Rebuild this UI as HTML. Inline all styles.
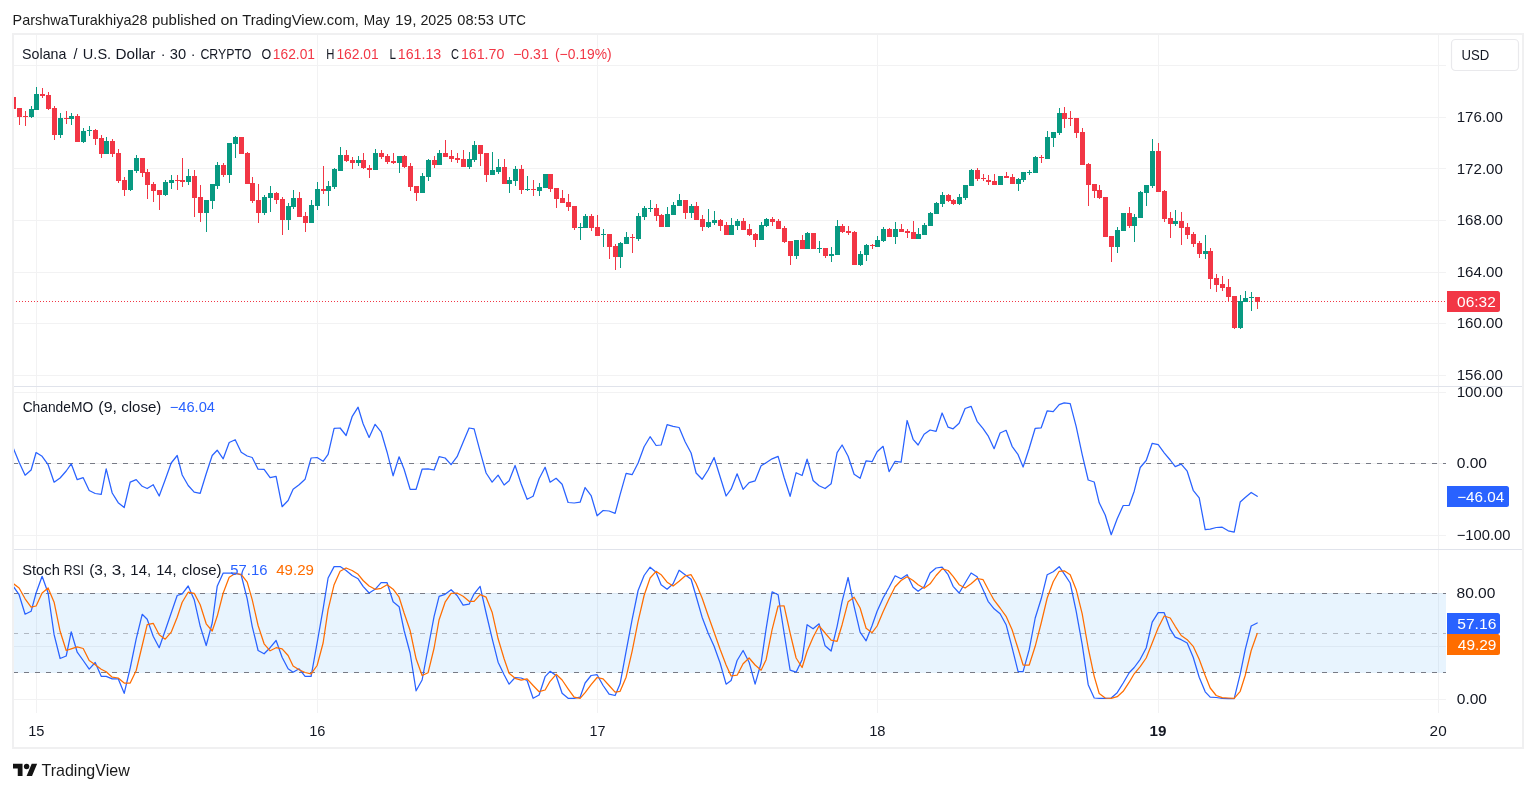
<!DOCTYPE html>
<html lang="en"><head><meta charset="utf-8"><title>SOLUSD chart</title>
<style>html,body{margin:0;padding:0;background:#fff;}body{width:1536px;height:792px;overflow:hidden;}svg{display:block;position:absolute;left:0;top:0;will-change:transform;}text{font-family:"Liberation Sans", Arial, sans-serif;font-size:14.3px;fill:#131722;white-space:pre;}.ax{font-size:14.5px;}.w{fill:#fff;}.r{fill:#f23645;}.b{fill:#2962ff;}.o{fill:#ff6d00;}</style></head><body>
<svg width="1536" height="792" viewBox="0 0 1536 792">
<rect width="1536" height="792" fill="#fff"/>
<defs><clipPath id="p1"><rect x="14" y="35" width="1508" height="351"/></clipPath><clipPath id="p2"><rect x="14" y="387" width="1508" height="162"/></clipPath><clipPath id="p3"><rect x="14" y="550" width="1508" height="162"/></clipPath><clipPath id="c1"><rect x="14" y="35" width="1432" height="351"/></clipPath><clipPath id="c2"><rect x="14" y="387" width="1432" height="162"/></clipPath><clipPath id="c3"><rect x="14" y="550" width="1432" height="150"/></clipPath></defs>
<g shape-rendering="crispEdges">
<g fill="#f2f2f3">
<rect x="36" y="35" width="1" height="678"/>
<rect x="317" y="35" width="1" height="678"/>
<rect x="597" y="35" width="1" height="678"/>
<rect x="877" y="35" width="1" height="678"/>
<rect x="1158" y="35" width="1" height="678"/>
<rect x="1438" y="35" width="1" height="678"/>
<rect x="14" y="65" width="1432" height="1"/>
<rect x="14" y="117" width="1432" height="1"/>
<rect x="14" y="168" width="1432" height="1"/>
<rect x="14" y="220" width="1432" height="1"/>
<rect x="14" y="272" width="1432" height="1"/>
<rect x="14" y="323" width="1432" height="1"/>
<rect x="14" y="375" width="1432" height="1"/>
<rect x="14" y="392" width="1432" height="1"/>
<rect x="14" y="463" width="1432" height="1"/>
<rect x="14" y="535" width="1432" height="1"/>
<rect x="14" y="593" width="1432" height="1"/>
<rect x="14" y="646" width="1432" height="1"/>
<rect x="14" y="699" width="1432" height="1"/>
</g>
<rect x="14" y="593" width="1432" height="80" fill="#2196f3" fill-opacity="0.1"/>
<rect x="14" y="386" width="1508" height="1" fill="#e0e3eb"/>
<rect x="14" y="549" width="1508" height="1" fill="#e0e3eb"/>
<path d="M13 463.5H1446" stroke="#787b86" stroke-width="1" stroke-dasharray="5 6" fill="none" stroke-opacity="1.0" clip-path="url(#p1)" style="clip-path:none"/>
<path d="M13 593.5H1446" stroke="#787b86" stroke-width="1" stroke-dasharray="5 6" fill="none" stroke-opacity="1.0" clip-path="url(#p1)" style="clip-path:none"/>
<path d="M13 672.5H1446" stroke="#787b86" stroke-width="1" stroke-dasharray="5 6" fill="none" stroke-opacity="1.0" clip-path="url(#p1)" style="clip-path:none"/>
<path d="M13 633.5H1446" stroke="#787b86" stroke-width="1" stroke-dasharray="5 6" fill="none" stroke-opacity="0.5" clip-path="url(#p1)" style="clip-path:none"/>
<path d="M13 301.5H1446" stroke="#f23645" stroke-width="1" stroke-dasharray="1 2" fill="none"/>
</g>
<g shape-rendering="crispEdges" clip-path="url(#c1)">
<path fill="#089981" d="M31 106h1v12h-1zM29 109h5v8h-5zM36 87h1v23h-1zM34 94h5v16h-5zM60 113h1v25h-1zM58 118h5v17h-5zM71 113h1v12h-1zM69 116h5v3h-5zM83 128h1v15h-1zM81 131h5v11h-5zM89 126h1v10h-1zM87 130h5v1h-5zM106 137h1v17h-1zM104 141h5v13h-5zM130 170h1v21h-1zM128 170h5v20h-5zM136 155h1v18h-1zM134 158h5v13h-5zM165 180h1v16h-1zM163 182h5v13h-5zM171 175h1v14h-1zM169 180h5v3h-5zM188 169h1v16h-1zM186 176h5v6h-5zM206 200h1v32h-1zM204 200h5v13h-5zM212 184h1v25h-1zM210 184h5v17h-5zM217 162h1v27h-1zM215 165h5v21h-5zM229 143h1v40h-1zM227 143h5v32h-5zM235 136h1v22h-1zM233 137h5v7h-5zM264 195h1v20h-1zM262 197h5v16h-5zM270 186h1v26h-1zM268 193h5v5h-5zM288 203h1v27h-1zM286 206h5v14h-5zM293 190h1v19h-1zM291 198h5v9h-5zM311 200h1v23h-1zM309 205h5v18h-5zM317 182h1v28h-1zM315 189h5v17h-5zM328 181h1v25h-1zM326 186h5v5h-5zM334 168h1v21h-1zM332 169h5v18h-5zM340 147h1v24h-1zM338 155h5v16h-5zM358 156h1v10h-1zM356 160h5v3h-5zM375 149h1v21h-1zM373 153h5v17h-5zM399 156h1v17h-1zM397 156h5v7h-5zM422 173h1v20h-1zM420 176h5v17h-5zM428 159h1v22h-1zM426 160h5v17h-5zM439 150h1v15h-1zM437 153h5v12h-5zM469 152h1v17h-1zM467 159h5v8h-5zM474 141h1v21h-1zM472 145h5v15h-5zM492 152h1v23h-1zM490 170h5v5h-5zM498 159h1v15h-1zM496 167h5v5h-5zM509 177h1v16h-1zM507 180h5v4h-5zM515 166h1v20h-1zM513 169h5v12h-5zM527 176h1v15h-1zM525 189h5v1h-5zM539 183h1v13h-1zM537 187h5v4h-5zM545 174h1v14h-1zM543 174h5v14h-5zM580 223h1v17h-1zM578 227h5v1h-5zM585 214h1v14h-1zM583 216h5v12h-5zM603 229h1v18h-1zM601 234h5v1h-5zM620 242h1v26h-1zM618 243h5v14h-5zM626 232h1v12h-1zM624 237h5v7h-5zM638 213h1v28h-1zM636 216h5v23h-5zM644 206h1v14h-1zM642 208h5v9h-5zM650 200h1v12h-1zM648 208h5v1h-5zM667 207h1v20h-1zM665 214h5v13h-5zM673 202h1v13h-1zM671 205h5v10h-5zM679 194h1v12h-1zM677 200h5v6h-5zM691 204h1v14h-1zM689 206h5v7h-5zM708 209h1v19h-1zM706 222h5v5h-5zM714 211h1v14h-1zM712 220h5v3h-5zM731 218h1v17h-1zM729 225h5v10h-5zM737 219h1v11h-1zM735 221h5v5h-5zM761 222h1v18h-1zM759 225h5v15h-5zM766 218h1v9h-1zM764 219h5v7h-5zM796 240h1v19h-1zM794 240h5v16h-5zM807 232h1v17h-1zM805 233h5v16h-5zM819 241h1v12h-1zM817 248h5v1h-5zM831 247h1v15h-1zM829 254h5v2h-5zM837 220h1v35h-1zM835 226h5v29h-5zM860 251h1v15h-1zM858 254h5v11h-5zM866 244h1v17h-1zM864 245h5v10h-5zM877 236h1v11h-1zM875 240h5v7h-5zM883 227h1v15h-1zM881 229h5v12h-5zM895 222h1v22h-1zM893 229h5v8h-5zM918 228h1v11h-1zM916 234h5v5h-5zM924 223h1v12h-1zM922 225h5v10h-5zM930 212h1v14h-1zM928 213h5v13h-5zM936 202h1v12h-1zM934 203h5v11h-5zM942 192h1v15h-1zM940 195h5v9h-5zM959 194h1v11h-1zM957 197h5v7h-5zM965 185h1v15h-1zM963 185h5v13h-5zM971 169h1v17h-1zM969 170h5v16h-5zM1000 176h1v9h-1zM998 176h5v9h-5zM1018 178h1v13h-1zM1016 179h5v5h-5zM1023 172h1v10h-1zM1021 172h5v8h-5zM1029 170h1v5h-1zM1027 172h5v1h-5zM1035 156h1v17h-1zM1033 157h5v16h-5zM1047 131h1v28h-1zM1045 137h5v22h-5zM1053 132h1v15h-1zM1051 132h5v6h-5zM1059 108h1v27h-1zM1057 113h5v20h-5zM1117 227h1v26h-1zM1115 230h5v17h-5zM1123 213h1v18h-1zM1121 213h5v18h-5zM1134 214h1v28h-1zM1132 217h5v9h-5zM1140 191h1v27h-1zM1138 192h5v26h-5zM1146 185h1v21h-1zM1144 185h5v8h-5zM1152 139h1v49h-1zM1150 151h5v35h-5zM1175 210h1v16h-1zM1173 221h5v3h-5zM1205 235h1v24h-1zM1203 251h5v3h-5zM1240 295h1v34h-1zM1238 301h5v27h-5zM1245 291h1v11h-1zM1243 298h5v4h-5zM1251 292h1v19h-1zM1249 297h5v1h-5z"/>
<path fill="#f23645" d="M13 97h1v13h-1zM11 97h5v12h-5zM19 108h1v17h-1zM17 108h5v9h-5zM25 111h1v15h-1zM23 116h5v1h-5zM42 88h1v10h-1zM40 94h5v2h-5zM48 92h1v18h-1zM46 95h5v14h-5zM54 106h1v34h-1zM52 108h5v27h-5zM66 111h1v13h-1zM64 118h5v1h-5zM77 114h1v28h-1zM75 116h5v26h-5zM95 129h1v16h-1zM93 130h5v9h-5zM101 135h1v23h-1zM99 138h5v16h-5zM112 139h1v18h-1zM110 141h5v13h-5zM118 149h1v34h-1zM116 153h5v28h-5zM124 177h1v19h-1zM122 180h5v10h-5zM142 158h1v19h-1zM140 158h5v15h-5zM147 169h1v30h-1zM145 172h5v13h-5zM153 182h1v20h-1zM151 184h5v7h-5zM159 190h1v20h-1zM157 190h5v5h-5zM177 175h1v15h-1zM175 180h5v1h-5zM182 158h1v29h-1zM180 180h5v2h-5zM194 170h1v47h-1zM192 176h5v22h-5zM200 185h1v37h-1zM198 197h5v16h-5zM223 163h1v14h-1zM221 165h5v10h-5zM241 137h1v17h-1zM239 137h5v17h-5zM247 152h1v32h-1zM245 153h5v31h-5zM252 177h1v26h-1zM250 183h5v18h-5zM258 184h1v39h-1zM256 200h5v13h-5zM276 192h1v12h-1zM274 193h5v7h-5zM282 197h1v38h-1zM280 199h5v21h-5zM299 192h1v25h-1zM297 198h5v19h-5zM305 212h1v20h-1zM303 216h5v7h-5zM323 166h1v28h-1zM321 189h5v2h-5zM346 150h1v12h-1zM344 155h5v6h-5zM352 157h1v12h-1zM350 160h5v3h-5zM363 153h1v16h-1zM361 160h5v8h-5zM369 165h1v13h-1zM367 168h5v2h-5zM381 150h1v9h-1zM379 153h5v4h-5zM387 154h1v10h-1zM385 156h5v6h-5zM393 153h1v11h-1zM391 161h5v2h-5zM404 155h1v13h-1zM402 156h5v11h-5zM410 163h1v28h-1zM408 166h5v21h-5zM416 186h1v15h-1zM414 186h5v7h-5zM434 156h1v12h-1zM432 160h5v5h-5zM445 140h1v17h-1zM443 153h5v4h-5zM451 150h1v12h-1zM449 156h5v3h-5zM457 153h1v10h-1zM455 158h5v2h-5zM463 150h1v17h-1zM461 159h5v8h-5zM480 145h1v21h-1zM478 145h5v9h-5zM486 153h1v29h-1zM484 153h5v22h-5zM504 159h1v25h-1zM502 167h5v17h-5zM521 165h1v29h-1zM519 169h5v21h-5zM533 180h1v16h-1zM531 189h5v1h-5zM550 174h1v18h-1zM548 174h5v15h-5zM556 188h1v20h-1zM554 188h5v11h-5zM562 190h1v13h-1zM560 198h5v5h-5zM568 194h1v17h-1zM566 202h5v5h-5zM574 206h1v24h-1zM572 206h5v22h-5zM591 214h1v17h-1zM589 216h5v12h-5zM597 215h1v21h-1zM595 227h5v9h-5zM609 234h1v25h-1zM607 234h5v13h-5zM615 244h1v26h-1zM613 246h5v11h-5zM632 234h1v19h-1zM630 237h5v1h-5zM656 204h1v17h-1zM654 208h5v8h-5zM661 214h1v13h-1zM659 215h5v12h-5zM685 200h1v19h-1zM683 200h5v13h-5zM696 202h1v18h-1zM694 206h5v14h-5zM702 215h1v16h-1zM700 219h5v8h-5zM720 219h1v12h-1zM718 220h5v6h-5zM726 222h1v13h-1zM724 225h5v10h-5zM743 218h1v12h-1zM741 221h5v9h-5zM749 224h1v12h-1zM747 229h5v6h-5zM755 233h1v14h-1zM753 234h5v6h-5zM772 217h1v9h-1zM770 219h5v3h-5zM778 219h1v10h-1zM776 221h5v8h-5zM784 226h1v17h-1zM782 228h5v14h-5zM790 241h1v24h-1zM788 241h5v15h-5zM802 235h1v14h-1zM800 240h5v9h-5zM813 233h1v16h-1zM811 233h5v16h-5zM825 248h1v10h-1zM823 248h5v8h-5zM842 224h1v9h-1zM840 226h5v6h-5zM848 226h1v9h-1zM846 231h5v2h-5zM854 231h1v34h-1zM852 232h5v33h-5zM872 244h1v5h-1zM870 245h5v1h-5zM889 228h1v9h-1zM887 229h5v8h-5zM901 224h1v8h-1zM899 229h5v3h-5zM907 229h1v9h-1zM905 231h5v2h-5zM913 221h1v18h-1zM911 232h5v7h-5zM948 194h1v8h-1zM946 195h5v6h-5zM953 199h1v6h-1zM951 200h5v4h-5zM977 168h1v13h-1zM975 170h5v9h-5zM983 174h1v7h-1zM981 178h5v1h-5zM988 175h1v10h-1zM986 180h5v2h-5zM994 174h1v11h-1zM992 181h5v4h-5zM1006 172h1v6h-1zM1004 176h5v2h-5zM1012 174h1v10h-1zM1010 177h5v7h-5zM1041 155h1v8h-1zM1039 157h5v1h-5zM1064 107h1v21h-1zM1062 113h5v6h-5zM1070 111h1v15h-1zM1068 118h5v1h-5zM1076 118h1v20h-1zM1074 118h5v15h-5zM1082 128h1v37h-1zM1080 132h5v33h-5zM1088 163h1v43h-1zM1086 164h5v21h-5zM1094 184h1v14h-1zM1092 184h5v7h-5zM1099 185h1v14h-1zM1097 190h5v8h-5zM1105 197h1v40h-1zM1103 197h5v40h-5zM1111 236h1v26h-1zM1109 236h5v11h-5zM1129 207h1v21h-1zM1127 213h5v13h-5zM1158 143h1v49h-1zM1156 151h5v41h-5zM1164 190h1v32h-1zM1162 191h5v28h-5zM1170 212h1v26h-1zM1168 218h5v6h-5zM1181 212h1v33h-1zM1179 221h5v7h-5zM1187 223h1v16h-1zM1185 227h5v8h-5zM1193 232h1v15h-1zM1191 234h5v10h-5zM1199 241h1v17h-1zM1197 243h5v11h-5zM1210 248h1v41h-1zM1208 251h5v28h-5zM1216 274h1v18h-1zM1214 278h5v7h-5zM1222 276h1v15h-1zM1220 284h5v4h-5zM1228 279h1v23h-1zM1226 287h5v10h-5zM1234 296h1v33h-1zM1232 296h5v32h-5zM1257 297h1v12h-1zM1255 297h5v5h-5z"/>
</g>
<polyline clip-path="url(#c2)" fill="none" stroke="#2962ff" stroke-width="1.25" stroke-linejoin="round" stroke-linecap="round" points="13.2,448.0 19.1,462.2 25.1,475.2 31.1,470.0 36.1,452.5 42.1,456.3 48.1,464.7 54.1,482.2 60.1,478.0 66.2,471.0 71.2,463.8 77.2,479.7 83.2,477.7 89.2,490.5 95.2,493.5 101.2,494.3 106.2,468.8 112.2,493.0 118.2,502.7 124.2,507.5 130.2,482.2 136.2,479.7 142.2,486.3 147.2,488.5 153.2,484.7 159.2,496.0 165.2,479.7 171.2,463.0 177.2,455.5 182.2,475.0 188.2,485.5 194.2,492.2 200.2,493.3 206.2,473.8 212.2,455.5 217.2,450.2 223.2,458.8 229.2,442.5 235.2,439.7 241.2,452.2 247.2,456.0 252.2,457.5 258.1,469.2 264.1,469.3 270.1,477.7 276.1,476.3 282.1,506.7 288.1,500.5 293.1,489.2 299.1,484.7 305.1,479.2 311.1,458.0 317.1,457.5 323.1,461.3 328.1,454.3 334.1,428.3 340.1,428.0 346.1,435.5 352.1,416.7 358.1,407.2 363.1,423.8 369.1,437.5 375.1,424.3 381.1,431.8 387.1,452.2 393.1,475.8 399.1,456.8 404.1,469.3 410.1,489.3 416.1,489.3 422.1,469.2 428.1,468.8 434.1,470.0 439.1,456.7 445.1,458.0 451.1,464.7 457.1,456.7 463.1,442.2 469.1,428.0 474.1,428.8 480.1,451.3 486.1,473.0 492.1,482.2 498.1,475.2 504.1,485.0 509.1,480.8 515.1,465.5 521.1,483.8 527.1,499.3 533.1,496.3 539.1,478.8 545.1,467.2 550.1,482.2 556.1,478.3 562.1,484.2 568.1,502.5 574.1,503.0 580.1,502.2 585.1,487.5 591.1,495.5 597.1,515.8 603.1,510.5 609.1,511.0 615.1,513.3 620.1,494.7 626.1,473.3 632.1,474.7 638.1,463.0 644.1,446.8 650.1,436.7 656.1,445.5 661.1,445.0 667.1,424.7 673.1,426.3 679.1,427.5 685.1,441.7 691.1,453.0 696.1,473.0 702.1,479.3 708.1,470.0 714.1,457.5 720.1,476.7 726.1,496.0 731.1,489.2 737.1,473.8 743.1,489.3 749.1,482.7 755.1,480.8 761.1,465.8 766.1,462.7 772.1,458.8 778.1,456.3 784.1,477.5 790.1,496.3 796.1,472.7 802.1,475.5 807.1,459.2 813.1,480.5 819.1,485.8 825.1,488.5 831.1,483.8 837.1,452.7 842.1,445.0 848.1,456.3 854.1,474.3 860.1,478.3 866.1,460.8 872.1,461.7 877.1,451.7 883.1,446.3 889.1,471.7 895.1,461.3 901.1,462.2 907.1,420.5 913.1,439.3 918.1,445.0 924.1,434.3 930.1,430.0 936.1,431.3 942.1,413.0 948.1,427.2 953.1,428.8 959.1,423.3 965.1,408.5 971.1,406.3 977.1,421.3 983.1,428.7 988.1,435.8 994.1,448.7 1000.1,433.0 1006.1,430.3 1012.1,446.3 1018.1,454.7 1023.1,467.0 1029.2,448.3 1035.2,428.3 1041.2,427.8 1047.2,410.8 1053.2,411.7 1059.2,404.7 1064.2,402.8 1070.2,403.7 1076.2,426.7 1082.2,454.7 1088.2,480.0 1094.2,482.0 1099.2,502.8 1105.2,515.0 1111.2,534.7 1117.2,518.7 1123.2,505.5 1129.2,505.3 1134.2,491.2 1140.2,467.5 1146.2,460.5 1152.2,443.3 1158.2,444.7 1164.2,452.8 1170.2,460.0 1175.2,466.7 1181.2,464.2 1187.2,471.2 1193.2,490.3 1199.2,497.8 1205.2,529.7 1210.2,529.2 1216.2,527.5 1222.2,527.2 1228.2,530.8 1234.2,532.2 1240.2,502.0 1245.2,497.5 1251.2,492.5 1257.2,496.3"/>
<polyline clip-path="url(#c3)" fill="none" stroke="#2962ff" stroke-width="1.25" stroke-linejoin="round" stroke-linecap="round" points="13.2,586.3 19.1,594.7 25.1,614.2 31.1,611.3 36.1,593.0 42.1,576.3 48.1,593.0 54.1,634.7 60.1,658.5 66.2,656.0 71.2,631.8 77.2,652.2 83.2,660.5 89.2,669.2 95.2,662.5 101.2,676.3 106.2,676.3 112.2,678.8 118.2,678.8 124.2,693.3 130.2,668.0 136.2,638.8 142.2,614.3 147.2,619.2 153.2,636.3 159.2,647.7 165.2,630.5 171.2,613.0 177.2,595.5 182.2,593.8 188.2,586.0 194.2,599.7 200.2,626.3 206.2,645.5 212.2,623.0 217.2,586.3 223.2,573.0 229.2,573.0 235.2,573.0 241.2,575.0 247.2,598.8 252.2,626.3 258.1,650.5 264.1,653.8 270.1,647.7 276.1,640.5 282.1,657.2 288.1,668.8 293.1,672.2 299.1,668.8 305.1,676.3 311.1,676.3 317.1,643.0 323.1,608.8 328.1,578.0 334.1,566.6 340.1,566.6 346.1,570.5 352.1,575.5 358.1,578.8 363.1,586.3 369.1,593.0 375.1,589.3 381.1,582.7 387.1,582.7 393.1,601.8 399.1,606.7 404.1,630.5 410.1,653.0 416.1,690.8 422.1,680.0 428.1,648.0 434.1,616.3 439.1,596.3 445.1,594.3 451.1,589.7 457.1,595.5 463.1,605.2 469.1,604.2 474.1,593.8 480.1,586.3 486.1,613.0 492.1,638.3 498.1,662.2 504.1,674.7 509.1,684.2 515.1,677.5 521.1,678.0 527.1,680.5 533.1,698.3 539.1,695.0 545.1,676.7 550.1,671.3 556.1,675.5 562.1,693.3 568.1,698.3 574.1,698.3 580.1,697.2 585.1,683.0 591.1,675.5 597.1,674.7 603.1,685.5 609.1,694.2 615.1,695.5 620.1,683.8 626.1,651.3 632.1,619.7 638.1,590.5 644.1,575.5 650.1,567.2 656.1,572.2 661.1,584.7 667.1,589.2 673.1,583.8 679.1,570.2 685.1,574.7 691.1,579.2 696.1,596.3 702.1,617.2 708.1,633.0 714.1,646.3 720.1,663.0 726.1,684.2 731.1,680.5 737.1,660.5 743.1,650.5 749.1,662.2 755.1,684.2 761.1,663.0 766.1,628.8 772.1,591.8 778.1,594.7 784.1,633.0 790.1,670.2 796.1,672.2 802.1,659.7 807.1,624.7 813.1,628.8 819.1,623.8 825.1,645.8 831.1,651.0 837.1,626.3 842.1,601.3 848.1,577.5 854.1,606.3 860.1,632.2 866.1,640.8 872.1,625.5 877.1,611.3 883.1,598.0 889.1,587.2 895.1,575.8 901.1,578.8 907.1,574.7 913.1,587.2 918.1,591.3 924.1,586.8 930.1,573.0 936.1,568.0 942.1,567.2 948.1,574.7 953.1,586.3 959.1,593.0 965.1,583.0 971.1,573.0 977.1,576.8 983.1,589.7 988.1,601.3 994.1,608.8 1000.1,613.8 1006.1,624.7 1012.1,647.7 1018.1,671.7 1023.1,671.7 1029.2,649.7 1035.2,618.0 1041.2,598.8 1047.2,574.7 1053.2,571.7 1059.2,566.7 1064.2,573.8 1070.2,583.0 1076.2,611.3 1082.2,644.7 1088.2,684.7 1094.2,698.0 1099.2,698.3 1105.2,698.3 1111.2,698.0 1117.2,692.7 1123.2,683.0 1129.2,672.7 1134.2,667.5 1140.2,659.3 1146.2,648.0 1152.2,622.2 1158.2,612.7 1164.2,612.7 1170.2,629.2 1175.2,637.2 1181.2,639.7 1187.2,643.0 1193.2,657.2 1199.2,677.2 1205.2,691.8 1210.2,697.2 1216.2,697.5 1222.2,698.3 1228.2,698.7 1234.2,698.7 1240.2,674.2 1245.2,649.7 1251.2,626.0 1257.2,623.0"/>
<polyline clip-path="url(#c3)" fill="none" stroke="#ff6d00" stroke-width="1.25" stroke-linejoin="round" stroke-linecap="round" points="13.2,583.5 19.1,588.0 25.1,598.8 31.1,607.2 36.1,606.0 42.1,593.0 48.1,588.0 54.1,602.2 60.1,631.3 66.2,650.5 71.2,648.8 77.2,646.8 83.2,648.5 89.2,660.5 95.2,664.7 101.2,669.2 106.2,671.7 112.2,677.2 118.2,678.0 124.2,683.0 130.2,683.0 136.2,670.5 142.2,645.5 147.2,624.7 153.2,623.3 159.2,634.7 165.2,639.2 171.2,632.2 177.2,617.2 182.2,602.2 188.2,592.2 194.2,593.3 200.2,604.7 206.2,623.8 212.2,631.0 217.2,616.3 223.2,593.0 229.2,577.2 235.2,573.5 241.2,574.3 247.2,582.2 252.2,599.7 258.1,625.5 264.1,643.8 270.1,650.8 276.1,647.7 282.1,648.8 288.1,655.5 293.1,666.0 299.1,669.7 305.1,672.5 311.1,673.8 317.1,665.5 323.1,643.0 328.1,609.7 334.1,584.7 340.1,571.3 346.1,568.0 352.1,570.5 358.1,574.3 363.1,580.5 369.1,586.0 375.1,589.3 381.1,588.3 387.1,584.7 393.1,589.2 399.1,597.2 404.1,613.0 410.1,630.5 416.1,658.8 422.1,675.5 428.1,672.7 434.1,648.0 439.1,619.7 445.1,602.2 451.1,593.3 457.1,593.0 463.1,596.3 469.1,601.3 474.1,601.3 480.1,594.7 486.1,597.2 492.1,612.2 498.1,638.8 504.1,658.8 509.1,673.3 515.1,678.3 521.1,680.2 527.1,678.8 533.1,685.5 539.1,691.7 545.1,690.0 550.1,681.3 556.1,674.3 562.1,680.0 568.1,688.8 574.1,697.2 580.1,698.3 585.1,692.7 591.1,684.7 597.1,677.5 603.1,678.8 609.1,685.5 615.1,692.2 620.1,691.3 626.1,677.2 632.1,651.3 638.1,621.3 644.1,595.5 650.1,578.0 656.1,571.3 661.1,574.7 667.1,582.2 673.1,586.0 679.1,581.3 685.1,576.0 691.1,574.7 696.1,583.5 702.1,598.0 708.1,615.5 714.1,632.2 720.1,649.2 726.1,665.0 731.1,676.0 737.1,675.2 743.1,663.8 749.1,658.0 755.1,665.0 761.1,670.2 766.1,659.7 772.1,629.7 778.1,606.0 784.1,605.8 790.1,633.0 796.1,658.0 802.1,667.5 807.1,651.3 813.1,637.2 819.1,625.8 825.1,633.0 831.1,640.2 837.1,641.3 842.1,624.7 848.1,601.8 854.1,597.2 860.1,608.0 866.1,628.3 872.1,632.7 877.1,626.0 883.1,611.7 889.1,598.8 895.1,586.8 901.1,580.5 907.1,576.7 913.1,580.5 918.1,584.7 924.1,588.3 930.1,583.8 936.1,575.5 942.1,568.8 948.1,570.5 953.1,576.3 959.1,584.7 965.1,588.0 971.1,583.8 977.1,578.5 983.1,579.7 988.1,589.3 994.1,600.2 1000.1,608.0 1006.1,616.3 1012.1,629.7 1018.1,648.8 1023.1,665.0 1029.2,665.0 1035.2,646.3 1041.2,623.0 1047.2,598.0 1053.2,581.7 1059.2,571.3 1064.2,570.8 1070.2,574.7 1076.2,589.7 1082.2,613.8 1088.2,648.0 1094.2,676.3 1099.2,693.5 1105.2,698.0 1111.2,698.3 1117.2,696.7 1123.2,691.3 1129.2,682.2 1134.2,673.8 1140.2,666.7 1146.2,658.0 1152.2,643.0 1158.2,627.7 1164.2,616.0 1170.2,618.0 1175.2,626.3 1181.2,635.5 1187.2,639.7 1193.2,646.3 1199.2,659.3 1205.2,675.5 1210.2,688.0 1216.2,695.5 1222.2,697.7 1228.2,698.0 1234.2,698.3 1240.2,691.3 1245.2,675.5 1251.2,650.5 1257.2,633.5"/>
<rect x="13" y="34" width="1510" height="714" fill="none" stroke="#f0f0f1" stroke-width="2" shape-rendering="crispEdges"/>
<text id="t0" x="12.61" y="25.0" textLength="135.00" lengthAdjust="spacingAndGlyphs" style="fill:#1c1c1c">ParshwaTurakhiya28</text>
<text id="t1" x="151.97" y="25.0" textLength="64.07" lengthAdjust="spacingAndGlyphs" style="fill:#1c1c1c">published</text>
<text id="t2" x="220.40" y="25.0" textLength="17.80" lengthAdjust="spacingAndGlyphs" style="fill:#1c1c1c">on</text>
<text id="t3" x="242.18" y="25.0" textLength="116.71" lengthAdjust="spacingAndGlyphs" style="fill:#1c1c1c">TradingView.com,</text>
<text id="t4" x="363.85" y="25.0" textLength="25.91" lengthAdjust="spacingAndGlyphs" style="fill:#1c1c1c">May</text>
<text id="t5" x="394.96" y="25.0" textLength="21.48" lengthAdjust="spacingAndGlyphs" style="fill:#1c1c1c">19,</text>
<text id="t6" x="420.43" y="25.0" textLength="31.79" lengthAdjust="spacingAndGlyphs" style="fill:#1c1c1c">2025</text>
<text id="t7" x="457.38" y="25.0" textLength="36.51" lengthAdjust="spacingAndGlyphs" style="fill:#1c1c1c">08:53</text>
<text id="t8" x="498.43" y="25.0" textLength="27.54" lengthAdjust="spacingAndGlyphs" style="fill:#1c1c1c">UTC</text>
<text id="t9" x="22.04" y="58.6" textLength="44.42" lengthAdjust="spacingAndGlyphs">Solana</text>
<text id="t10" x="73.56" y="58.6">/</text>
<text id="t11" x="82.88" y="58.6" textLength="28.26" lengthAdjust="spacingAndGlyphs">U.S.</text>
<text id="t12" x="115.49" y="58.6" textLength="39.87" lengthAdjust="spacingAndGlyphs">Dollar</text>
<text id="t13" x="160.74" y="58.6">·</text>
<text id="t14" x="169.81" y="58.6" textLength="16.34" lengthAdjust="spacingAndGlyphs">30</text>
<text id="t15" x="190.82" y="58.6">·</text>
<text id="t16" x="200.41" y="58.6" textLength="51.09" lengthAdjust="spacingAndGlyphs">CRYPTO</text>
<text id="t17" x="261.62" y="58.6" textLength="9.75" lengthAdjust="spacingAndGlyphs">O</text>
<text id="t18" x="326.25" y="58.6" textLength="8.15" lengthAdjust="spacingAndGlyphs">H</text>
<text id="t19" x="389.39" y="58.6" textLength="6.50" lengthAdjust="spacingAndGlyphs">L</text>
<text id="t20" x="450.98" y="58.6" textLength="8.00" lengthAdjust="spacingAndGlyphs">C</text>
<text id="t21" x="272.81" y="58.6" textLength="42.18" lengthAdjust="spacingAndGlyphs" class="r">162.01</text>
<text id="t22" x="336.43" y="58.6" textLength="42.31" lengthAdjust="spacingAndGlyphs" class="r">162.01</text>
<text id="t23" x="397.73" y="58.6" textLength="43.54" lengthAdjust="spacingAndGlyphs" class="r">161.13</text>
<text id="t24" x="460.89" y="58.6" textLength="43.51" lengthAdjust="spacingAndGlyphs" class="r">161.70</text>
<text id="t25" x="513.17" y="58.6" textLength="35.55" lengthAdjust="spacingAndGlyphs" class="r">−0.31</text>
<text id="t26" x="554.97" y="58.6" textLength="56.61" lengthAdjust="spacingAndGlyphs" class="r">(−0.19%)</text>
<text id="t27" x="22.65" y="412.3" textLength="70.49" lengthAdjust="spacingAndGlyphs">ChandeMO</text>
<text id="t28" x="98.37" y="412.3" textLength="18.60" lengthAdjust="spacingAndGlyphs">(9,</text>
<text id="t29" x="121.21" y="412.3" textLength="40.09" lengthAdjust="spacingAndGlyphs">close)</text>
<text id="t30" x="169.76" y="412.3" textLength="45.27" lengthAdjust="spacingAndGlyphs" class="b">−46.04</text>
<text id="t31" x="22.20" y="574.8" textLength="37.64" lengthAdjust="spacingAndGlyphs">Stoch</text>
<text id="t32" x="63.69" y="574.8" textLength="20.17" lengthAdjust="spacingAndGlyphs">RSI</text>
<text id="t33" x="89.22" y="574.8" textLength="18.03" lengthAdjust="spacingAndGlyphs">(3,</text>
<text id="t34" x="111.70" y="574.8" textLength="14.25" lengthAdjust="spacingAndGlyphs">3,</text>
<text id="t35" x="130.38" y="574.8" textLength="20.69" lengthAdjust="spacingAndGlyphs">14,</text>
<text id="t36" x="156.15" y="574.8" textLength="20.31" lengthAdjust="spacingAndGlyphs">14,</text>
<text id="t37" x="181.65" y="574.8" textLength="39.86" lengthAdjust="spacingAndGlyphs">close)</text>
<text id="t38" x="230.36" y="574.8" textLength="37.12" lengthAdjust="spacingAndGlyphs" class="b">57.16</text>
<text id="t39" x="276.19" y="574.8" textLength="37.75" lengthAdjust="spacingAndGlyphs" class="o">49.29</text>
<text id="t40" x="1456.70" y="121.9" textLength="46.19" lengthAdjust="spacingAndGlyphs" class="ax" clip-path="url(#p1)">176.00</text>
<text id="t41" x="1456.70" y="173.5" textLength="46.19" lengthAdjust="spacingAndGlyphs" class="ax" clip-path="url(#p1)">172.00</text>
<text id="t42" x="1456.70" y="225.1" textLength="46.19" lengthAdjust="spacingAndGlyphs" class="ax" clip-path="url(#p1)">168.00</text>
<text id="t43" x="1456.70" y="277.1" textLength="46.19" lengthAdjust="spacingAndGlyphs" class="ax" clip-path="url(#p1)">164.00</text>
<text id="t44" x="1456.70" y="328.3" textLength="46.19" lengthAdjust="spacingAndGlyphs" class="ax" clip-path="url(#p1)">160.00</text>
<text id="t45" x="1456.70" y="379.9" textLength="46.19" lengthAdjust="spacingAndGlyphs" class="ax" clip-path="url(#p1)">156.00</text>
<text id="t46" x="1456.70" y="396.8" textLength="46.19" lengthAdjust="spacingAndGlyphs" class="ax" clip-path="url(#p2)">100.00</text>
<text id="t47" x="1456.74" y="468.4" textLength="30.31" lengthAdjust="spacingAndGlyphs" class="ax" clip-path="url(#p2)">0.00</text>
<text id="t48" x="1456.73" y="540.2" textLength="53.65" lengthAdjust="spacingAndGlyphs" class="ax" clip-path="url(#p2)">−100.00</text>
<text id="t49" x="1456.56" y="598.3" textLength="38.84" lengthAdjust="spacingAndGlyphs" class="ax" clip-path="url(#p3)">80.00</text>
<text id="t50" x="1456.74" y="704.2" textLength="30.31" lengthAdjust="spacingAndGlyphs" class="ax">0.00</text>
<path fill="#f23645" d="M1447 291H1497.5Q1500 291 1500 293.5V309.5Q1500 312 1497.5 312H1447z"/>
<text id="t51" x="1457.13" y="306.8" textLength="38.63" lengthAdjust="spacingAndGlyphs" class="ax w">06:32</text>
<path fill="#2962ff" d="M1447 486H1506.5Q1509 486 1509 488.5V504.5Q1509 507 1506.5 507H1447z"/>
<text id="t52" x="1457.21" y="501.8" textLength="46.97" lengthAdjust="spacingAndGlyphs" class="ax w">−46.04</text>
<path fill="#2962ff" d="M1447 613H1497.5Q1500 613 1500 615.5V631.5Q1500 634 1497.5 634H1447z"/>
<text id="t53" x="1457.24" y="628.8" textLength="39.09" lengthAdjust="spacingAndGlyphs" class="ax w">57.16</text>
<path fill="#ff6d00" d="M1447 634H1497.5Q1500 634 1500 636.5V652.5Q1500 655 1497.5 655H1447z"/>
<text id="t54" x="1457.84" y="649.8" textLength="38.55" lengthAdjust="spacingAndGlyphs" class="ax w">49.29</text>
<rect x="1451.5" y="39.5" width="67" height="31" rx="4" fill="#fff" stroke="#e9e9ec" stroke-width="1.2"/>
<text id="t55" x="1461.47" y="59.7" textLength="27.73" lengthAdjust="spacingAndGlyphs">USD</text>
<text id="t56" x="28.18" y="736.0" textLength="16.28" lengthAdjust="spacingAndGlyphs" class="ax">15</text>
<text id="t57" x="309.19" y="736.0" textLength="16.23" lengthAdjust="spacingAndGlyphs" class="ax">16</text>
<text id="t58" x="589.39" y="736.0" textLength="16.02" lengthAdjust="spacingAndGlyphs" class="ax">17</text>
<text id="t59" x="869.19" y="736.0" textLength="16.37" lengthAdjust="spacingAndGlyphs" class="ax">18</text>
<text id="t60" x="1149.61" y="736.0" textLength="16.95" lengthAdjust="spacingAndGlyphs" class="ax" style="font-weight:bold">19</text>
<text id="t61" x="1429.63" y="736.0" textLength="17.03" lengthAdjust="spacingAndGlyphs" class="ax">20</text>
<g transform="translate(13 761) scale(0.68)" fill="#141414"><path d="M14 22H7V11H0V4h14v18zM28 22h-8l7.5-18h8L28 22z"/><circle cx="20" cy="8" r="4"/></g>
<text id="t62" x="41.50" y="775.7" textLength="88.24" lengthAdjust="spacingAndGlyphs" style="font-size:16.6px;fill:#1a1a1a">TradingView</text>
</svg></body></html>
